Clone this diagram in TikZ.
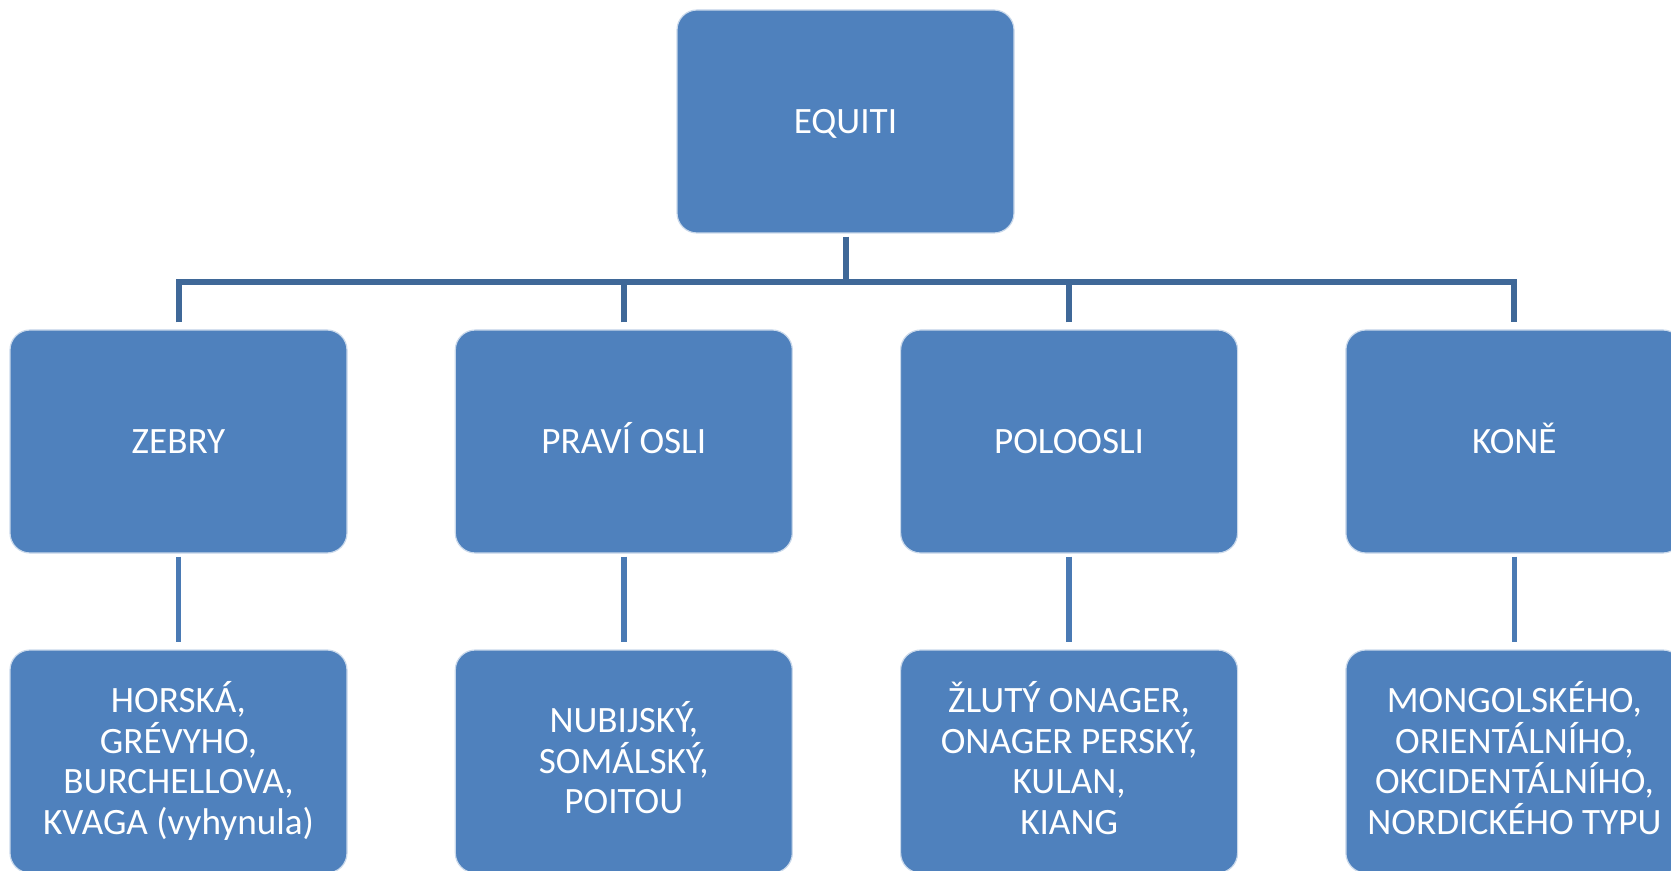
\documentclass[tikz,border=0pt]{standalone}
\usepackage{fontspec}
\setmainfont{Carlito}
\definecolor{boxblue}{HTML}{4F81BD}
\definecolor{topline}{HTML}{3F6898}
\definecolor{lowline}{HTML}{4A7AB4}
\begin{document}
\begin{tikzpicture}[x=0.5pt,y=-0.5pt,
  blk/.style={fill=boxblue,draw=white!70!boxblue,line width=0.6pt,rounded corners=10pt,
    minimum width=168.5pt,minimum height=111.5pt,text=white,align=center,
    font=\fontsize{18.6pt}{20.25pt}\selectfont,inner sep=0pt,text depth=0pt},
  one/.style={text height=11.8pt},
  three/.style={text height=52.3pt},
  four/.style={text height=72.55pt},
  tconn/.style={draw=topline,line width=3pt},
  lconn/.style={draw=lowline,line width=2.8pt}]
\useasboundingbox (0,0) rectangle (1671,871);
\clip (0,0) rectangle (1671,871);
% nodes
\node[blk,one] (root) at (845.5,121.5) {EQUITI};
\node[blk,one] (z) at (178.5,441.5) {ZEBRY};
\node[blk,one] (o) at (623.8,441.5) {PRAVÍ OSLI};
\node[blk,one] (p) at (1069.1,441.5) {POLOOSLI};
\node[blk,one] (k) at (1514.4,441.5) {KONĚ};
\node[blk,four] (z2) at (178.5,761.5) {HORSKÁ,\\GRÉVYHO,\\BURCHELLOVA,\\KVAGA (vyhynula)};
\node[blk,three] (o2) at (623.8,761.5) {NUBIJSKÝ,\\SOMÁLSKÝ,\\POITOU};
\node[blk,four] (p2) at (1069.1,761.5) {ŽLUTÝ ONAGER,\\ONAGER PERSKÝ,\\KULAN,\\KIANG};
\node[blk,four] (k2) at (1514.4,761.5) {MONGOLSKÉHO,\\ORIENTÁLNÍHO,\\OKCIDENTÁLNÍHO,\\NORDICKÉHO TYPU};
% connectors
\coordinate (h) at (845.5,282);
\draw[tconn] ([yshift=-1.5pt]root.south) -- (h);
\draw[tconn,line join=miter]
  ([yshift=3.5pt]z.north) |- (h) -| ([yshift=3.5pt]k.north);
\draw[tconn] ([yshift=3.5pt]o.north) -- (o.north |- h);
\draw[tconn] ([yshift=3.5pt]p.north) -- (p.north |- h);
\draw[lconn] ([yshift=-1.5pt]z.south) -- ([yshift=3.5pt]z2.north);
\draw[lconn] ([yshift=-1.5pt]o.south) -- ([yshift=3.5pt]o2.north);
\draw[lconn] ([yshift=-1.5pt]p.south) -- ([yshift=3.5pt]p2.north);
\draw[lconn] ([yshift=-1.5pt]k.south) -- ([yshift=3.5pt]k2.north);
\end{tikzpicture}
\end{document}
